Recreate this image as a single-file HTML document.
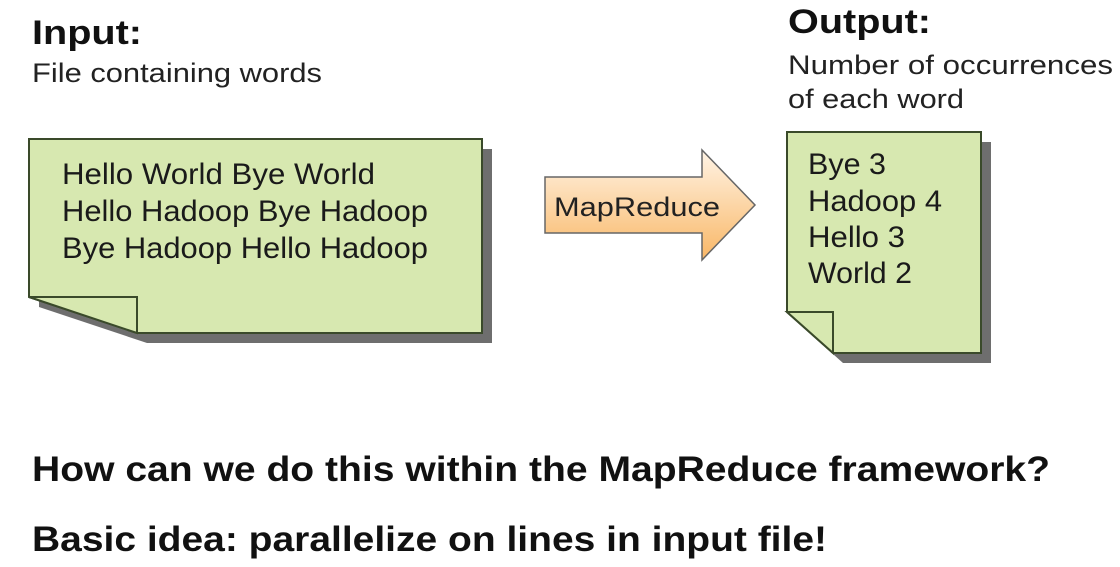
<!DOCTYPE html>
<html><head><meta charset="utf-8"><style>html,body{margin:0;padding:0;background:#fff}svg{display:block}</style></head>
<body>
<svg width="1120" height="567" xmlns="http://www.w3.org/2000/svg" font-family="Liberation Sans, Arial, sans-serif">
<defs>
<linearGradient id="og" x1="0" y1="0" x2="0" y2="1">
<stop offset="0" stop-color="#fff4e6"/><stop offset="1" stop-color="#f9b766"/>
</linearGradient>
</defs>
<text x="32" y="44" font-size="34" font-weight="bold" fill="#111" textLength="110" lengthAdjust="spacingAndGlyphs">Input:</text>
<text x="32" y="82" font-size="27" fill="#222" textLength="290" lengthAdjust="spacingAndGlyphs">File containing words</text>
<text x="788" y="33" font-size="34" font-weight="bold" fill="#111" textLength="143" lengthAdjust="spacingAndGlyphs">Output:</text>
<text x="788" y="74" font-size="27" fill="#222" textLength="325" lengthAdjust="spacingAndGlyphs">Number of occurrences</text>
<text x="788" y="108" font-size="27" fill="#222" textLength="176" lengthAdjust="spacingAndGlyphs">of each word</text>

<!-- input note -->
<polygon points="39,149 492,149 492,343 147,343 39,307" fill="#6e6e6e"/>
<polygon points="29,139 482,139 482,333 137,333 29,297" fill="#d7e8b0" stroke="#3a4a2a" stroke-width="2"/>
<polygon points="29,297 137,297 137,333" fill="#d7e8b0" stroke="#3a4a2a" stroke-width="2"/>
<g font-size="30" fill="#1a1a1a">
<text x="62" y="184" textLength="313" lengthAdjust="spacingAndGlyphs">Hello World Bye World</text>
<text x="62" y="221" textLength="366" lengthAdjust="spacingAndGlyphs">Hello Hadoop Bye Hadoop</text>
<text x="62" y="258" textLength="366" lengthAdjust="spacingAndGlyphs">Bye Hadoop Hello Hadoop</text>
</g>

<!-- arrow -->
<polygon points="545,177 702,177 702,150 755,205 702,260 702,233 545,233" fill="url(#og)" stroke="#666" stroke-width="1.5"/>
<text x="554" y="216" font-size="27" fill="#222" textLength="166" lengthAdjust="spacingAndGlyphs">MapReduce</text>

<!-- output note -->
<polygon points="797,142 991,142 991,363 843,363 797,322" fill="#6e6e6e"/>
<polygon points="787,132 981,132 981,353 833,353 787,312" fill="#d7e8b0" stroke="#3a4a2a" stroke-width="2"/>
<polygon points="787,312 833,312 833,353" fill="#d7e8b0" stroke="#3a4a2a" stroke-width="2"/>
<g font-size="30" fill="#1a1a1a">
<text x="808" y="174" textLength="78" lengthAdjust="spacingAndGlyphs">Bye 3</text>
<text x="808" y="211" textLength="134" lengthAdjust="spacingAndGlyphs">Hadoop 4</text>
<text x="808" y="247" textLength="97" lengthAdjust="spacingAndGlyphs">Hello 3</text>
<text x="808" y="283" textLength="104" lengthAdjust="spacingAndGlyphs">World 2</text>
</g>

<text x="32" y="481" font-size="35" font-weight="bold" fill="#111" textLength="1018" lengthAdjust="spacingAndGlyphs">How can we do this within the MapReduce framework?</text>
<text x="32" y="551" font-size="35" font-weight="bold" fill="#111" textLength="795" lengthAdjust="spacingAndGlyphs">Basic idea: parallelize on lines in input file!</text>
</svg>
</body></html>
